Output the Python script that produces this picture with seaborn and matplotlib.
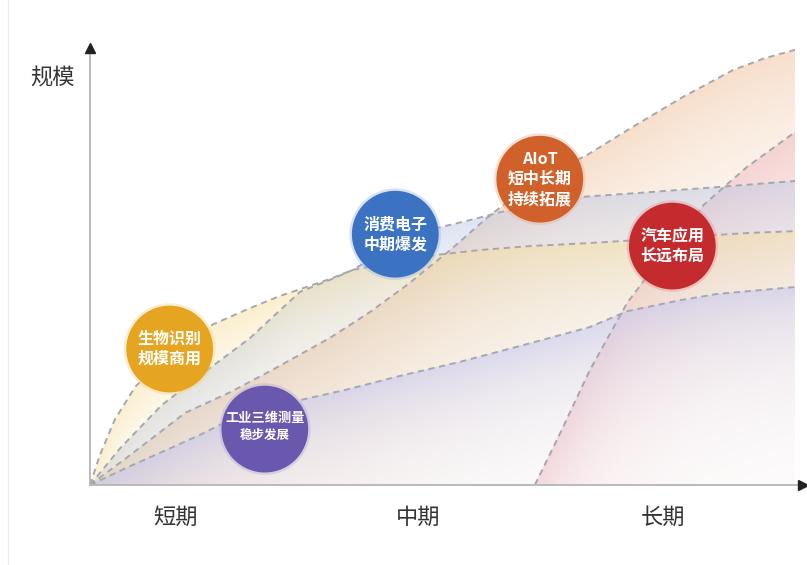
import numpy as np
import matplotlib
matplotlib.use("Agg")
import matplotlib.pyplot as plt
from matplotlib.colors import to_rgb
from matplotlib.lines import Line2D
import seaborn as sns
import pandas as pd

sns.set_theme(style="white")
plt.rcParams['font.family'] = ['Noto Sans CJK SC', 'DejaVu Sans']

# ---- growth curves: x = time (0..10), y = market scale ----
bio_x = [0, 0.14, 0.35, 0.64, 1.13, 1.73, 2.27, 2.70, 2.98, 3.40, 3.73, 4.33, 4.92, 5.53, 6.24, 7.09, 7.80, 8.65, 9.36, 10.0]
bio_y = [0, 0.68, 1.48, 2.23, 3.02, 3.64, 4.02, 4.30, 4.45, 4.68, 4.89, 5.07, 5.23, 5.34, 5.43, 5.50, 5.57, 5.66, 5.73, 5.77]

cons_x = [0, 0.43, 1.02, 1.82, 2.27, 2.62, 2.98, 3.40, 3.73, 4.30, 4.92, 5.39, 5.82, 6.40, 6.99, 7.80, 8.89, 10.0]
cons_y = [0, 0.84, 1.82, 2.80, 3.34, 3.86, 4.39, 4.66, 4.89, 5.45, 5.84, 6.02, 6.20, 6.39, 6.55, 6.64, 6.77, 6.91]

aiot_x = [0, 0.57, 1.35, 1.99, 2.58, 3.40, 3.97, 4.50, 5.11, 5.63, 6.03, 6.40, 7.05, 7.70, 8.41, 9.12, 9.57, 10.0]
aiot_y = [0, 0.68, 1.64, 2.11, 2.61, 3.34, 3.93, 4.55, 5.34, 6.07, 6.57, 6.98, 7.50, 8.14, 8.82, 9.43, 9.70, 9.89]

ind_x = [0, 0.57, 1.02, 1.56, 1.99, 2.48, 2.98, 3.62, 4.40, 5.25, 6.10, 7.09, 7.62, 8.37, 8.89, 10.0]
ind_y = [0, 0.43, 0.75, 1.14, 1.48, 1.75, 1.93, 2.16, 2.48, 2.80, 3.16, 3.59, 3.95, 4.20, 4.34, 4.50]

auto_x = [6.31, 6.67, 7.09, 7.62, 7.94, 8.26, 8.70, 9.32, 10.0]
auto_y = [0, 1.18, 2.61, 4.14, 4.82, 5.41, 6.36, 7.23, 8.02]

# ---- application bubbles ----
bubble_names = ["生物识别", "工业三维测量", "消费电子", "AIoT", "汽车应用"]
bubble_lines = [["生物识别", "规模商用"],
                ["工业三维测量", "稳步发展"],
                ["消费电子", "中期爆发"],
                ["AIoT", "短中长期", "持续拓展"],
                ["汽车应用", "长远布局"]]
bubble_x = [1.13, 2.48, 4.33, 6.38, 8.26]
bubble_y = [3.09, 1.27, 5.70, 6.95, 5.43]
bubble_colors = ["#E6A520", "#6A58AE", "#3B72C2", "#D1612B", "#C42B2E"]

period_labels = ["短期", "中期", "长期"]
period_x = [1.21, 4.65, 8.13]
y_label = "规模"

# ---- canvas ----
W, H = 807, 565
X0, Y0 = 90, 485          # origin in pixels
SX, SY = 70.5, 44.0       # pixels per data unit
fig = plt.figure(figsize=(W / 100, H / 100), dpi=100)
fig.patch.set_facecolor("white")
ax = fig.add_axes([X0 / W, (H - Y0) / H, (W - X0) / W, Y0 / H])

# gradient washes under each curve, fading away from the curve
layers = [
    (aiot_x, aiot_y, "#F0C4A0", 0.55, 120),
    (auto_x, auto_y, "#EEB6BE", 0.50, 110),
    (cons_x, cons_y, "#BDC9E6", 0.50, 75),
    (bio_x, bio_y, "#F6DE9C", 0.50, 60),
    (ind_x, ind_y, "#C4C6F2", 0.55, 55),
]
ymax_img = 10.5
gx = np.linspace(0, 10, 700)
gy = np.linspace(0, ymax_img, 470)
GY = gy[:, None]
rgb = np.ones((len(gy), len(gx), 3))
for cx, cy, col, a0, L in layers:
    c = np.interp(gx, cx, cy, left=np.nan, right=np.nan)
    d = (c[None, :] - GY) * SY
    a = np.where(d >= 0, a0 * np.exp(-np.clip(d, 0, None) / L), 0.0)
    a = np.nan_to_num(a)[..., None]
    rgb = rgb * (1 - a) + np.array(to_rgb(col)) * a
ax.imshow(rgb, extent=[0, 10, 0, ymax_img], origin="lower", aspect="auto",
          interpolation="bilinear", zorder=0)

# dashed curve outlines
dash = (0, (3.2, 2.4))
for cx, cy in [(aiot_x, aiot_y), (auto_x, auto_y), (cons_x, cons_y),
               (bio_x, bio_y), (ind_x, ind_y)]:
    sns.lineplot(x=cx, y=cy, ax=ax, sort=False, estimator=None,
                 color="#A6A7AF", lw=1.4, linestyle=dash, zorder=2)

# axes with arrow heads
xtip = (807 - 4 - X0) / SX
ytip = (Y0 - 48) / SY
ax.plot([0, xtip], [0, 0], color="#B5B5B5", lw=1.3, zorder=3, clip_on=False)
ax.plot([0, 0], [0, ytip], color="#B5B5B5", lw=1.3, zorder=3, clip_on=False)
ax.plot([xtip], [0], marker=">", color="#222222", ms=7, zorder=4, clip_on=False)
ax.plot([0], [ytip], marker="^", color="#222222", ms=7, zorder=4, clip_on=False)

# bubbles
bdf = pd.DataFrame({"x": bubble_x, "y": bubble_y, "name": bubble_names})
pal = dict(zip(bubble_names, bubble_colors))
halo = {k: tuple(0.5 * np.array(to_rgb(v)) + 0.5) for k, v in pal.items()}
sns.scatterplot(data=bdf, x="x", y="y", hue="name", palette=halo, s=4350,
                alpha=0.40, linewidth=0, legend=False, ax=ax, zorder=5)
sns.scatterplot(data=bdf, x="x", y="y", hue="name", palette=pal, s=3900,
                linewidth=0, legend=False, ax=ax, zorder=6)

line_gap = 20 / SY
for (bx, by, lines) in zip(bubble_x, bubble_y, bubble_lines):
    n = len(lines)
    for i, t in enumerate(lines):
        off = ((n - 1) / 2 - i) * line_gap
        fs = 11.5
        if t == "工业三维测量":
            fs = 9.5
        elif t == "稳步发展":
            fs = 9
        if n == 2 and lines[0] == "工业三维测量":
            off = ((n - 1) / 2 - i) * (17 / SY) + 0.05
        ax.text(bx, by + off, t, color="white", fontsize=fs, fontweight="bold",
                ha="center", va="center", zorder=7)

# period labels and y label
for t, px in zip(period_labels, period_x):
    ax.text(px, -32 / SY, t, fontsize=16, color="#333333", ha="center",
            va="center", clip_on=False)
ax.text(-38 / SX, (Y0 - 78) / SY, y_label, fontsize=16, color="#333333",
        ha="center", va="center", clip_on=False)

ax.set_xlim(0, (W - X0) / SX)
ax.set_ylim(0, Y0 / SY)
ax.axis("off")

# faint frame on the left edge
fig.add_artist(Line2D([8 / W, 8 / W], [0, 1], color="#EBEBEB", lw=1.0))

fig.savefig("out.png", dpi=100, facecolor="white")
